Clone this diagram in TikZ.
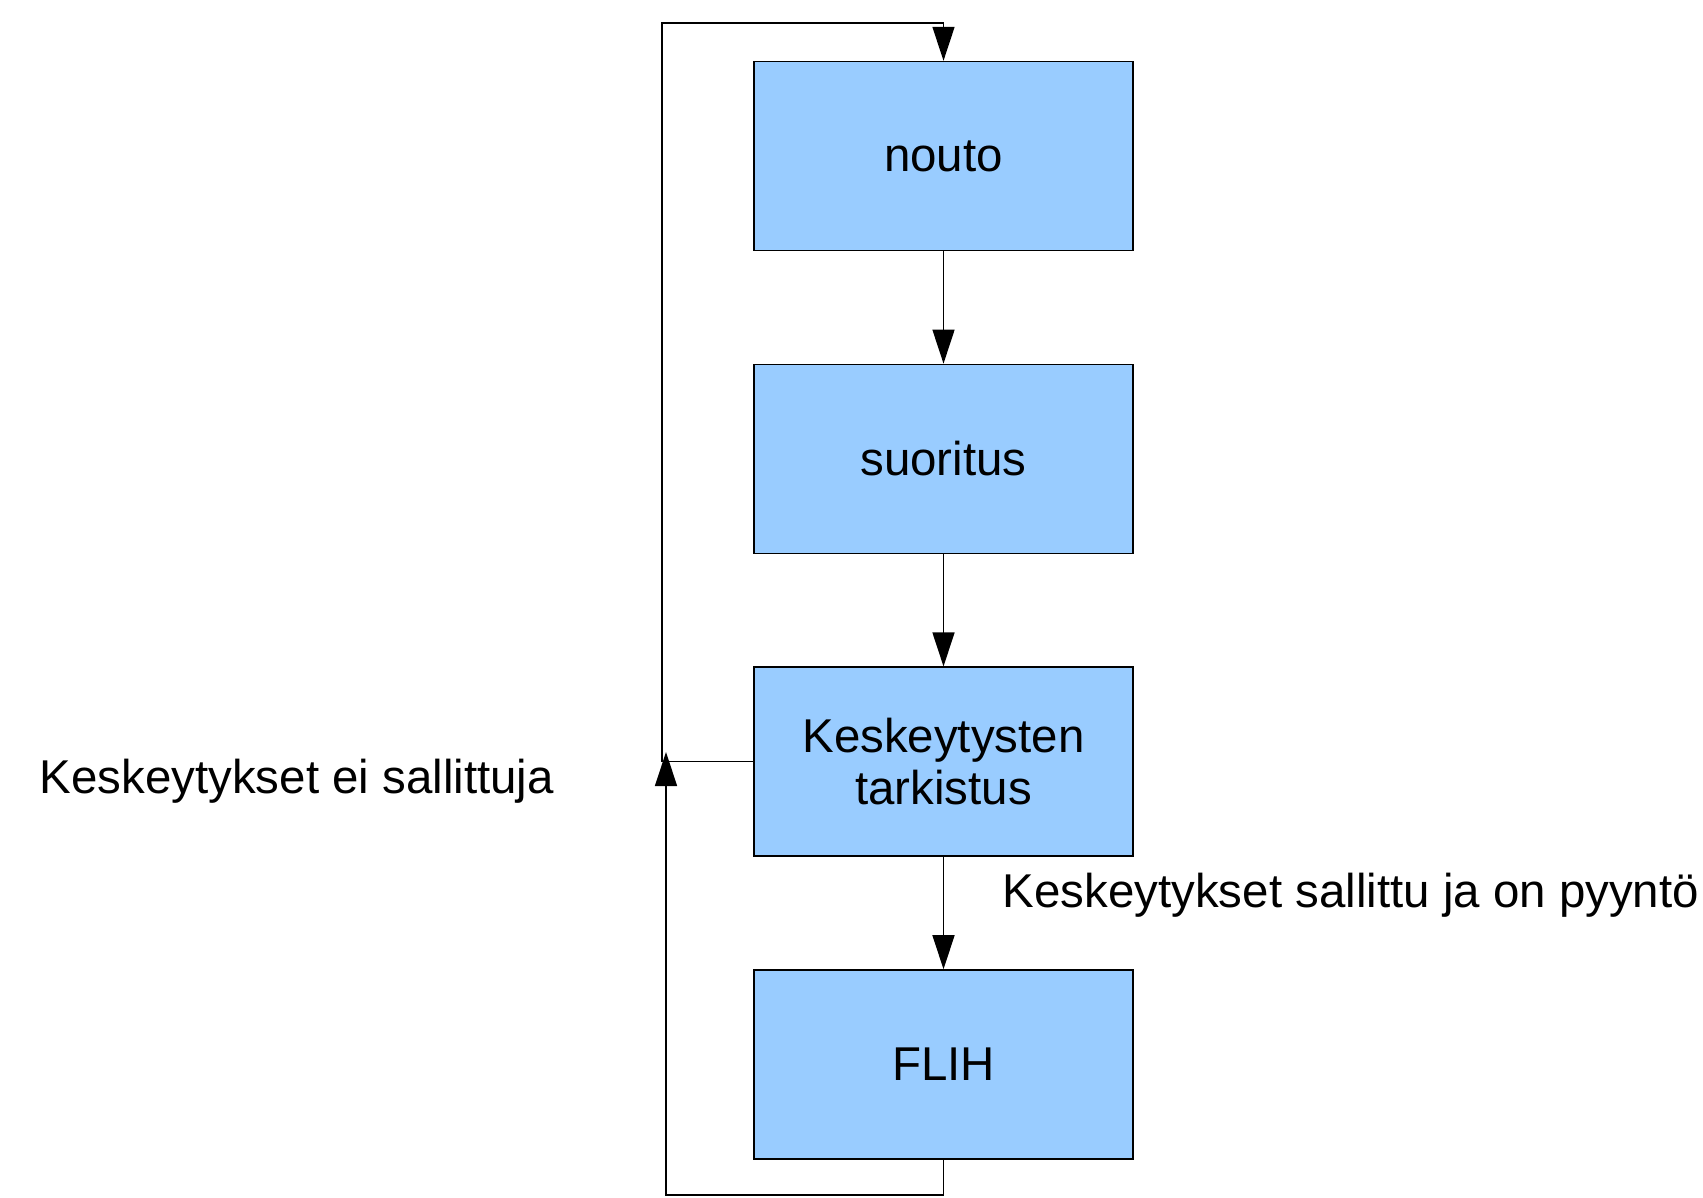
\documentclass[tikz,border=0pt]{standalone}
\usepackage{fontspec}
\setmainfont{Liberation Sans}
\usetikzlibrary{arrows.meta,positioning}
\definecolor{boxblue}{HTML}{99CCFF}
\tikzset{
  stage/.style={draw,fill=boxblue,line width=0.4pt,minimum width=3.79cm,minimum height=1.89cm,
    align=center,font=\fontsize{13.5}{14.9}\selectfont},
  flow/.style={line width=0.4pt,-{Triangle[length=0.34cm,width=0.22cm]}},
  note/.style={font=\fontsize{13.5}{14.9}\selectfont,anchor=base west,inner sep=0pt}
}
\begin{document}
\begin{tikzpicture}
        \useasboundingbox (0,0) rectangle (17.03,-11.97);
        %% Stages
        \node[stage] (nouto) at (9.435,-1.56) {nouto};
        \node[stage,below=1.124cm of nouto] (suoritus) {suoritus};
        \node[stage,below=1.124cm of suoritus] (tarkistus) {Keskeytysten\\tarkistus};
        \node[stage,below=1.124cm of tarkistus] (flih) {FLIH};
        %% Labels
        \node[note] (eisallittu) at (0.39,-7.93) {Keskeytykset ei sallittuja};
        \node[note] (pyynto) at (10.02,-9.07) {Keskeytykset sallittu ja on pyyntö};
        %% Main flow
        \draw[flow] (nouto) -- (suoritus);
        \draw[flow] (suoritus) -- (tarkistus);
        \draw[flow] (tarkistus) -- (flih);
        %% Loops back
        \coordinate (ylakulma) at (6.62,-0.23);
        \coordinate (alakulma) at (6.66,-11.95);
        \coordinate (paluu) at (6.66,-7.52);
        \draw[flow] (tarkistus.west) -| (ylakulma) -| (nouto.north);
        \draw[flow] (flih.south) |- (alakulma) -- (paluu);
    \end{tikzpicture}
\end{document}
